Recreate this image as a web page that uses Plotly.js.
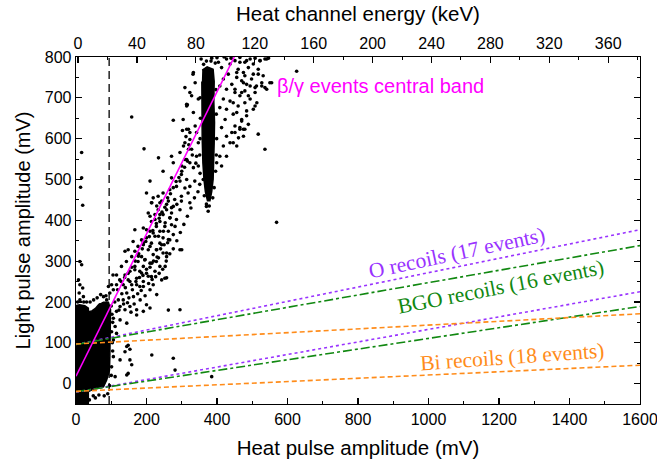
<!DOCTYPE html>
<html>
<head>
<meta charset="utf-8">
<script src="https://cdn.plot.ly/plotly-3.0.1.min.js"></script>
<style>html,body{margin:0;padding:0;background:#fff;}#chart{width:657px;height:463px;}</style>
</head>
<body>
<div id="chart"></div>
<script>
// ---------- data ----------
// scattered beta/gamma and low-energy events: [heat mV, light mV]
const eventPoints = [
 [247,520],[276,541],[271,504],[299,512],[323,541],[333,529],[347,533],[314,500],[295,496],[285,483],
 [266,475],[247,467],[210,496],[233,459],[219,455],[200,467],[309,479],[323,483],[337,496],[351,488],
 [361,500],[318,467],[299,459],[280,451],[262,447],[238,443],[214,443],[233,426],[257,426],[276,434],
 [299,447],[323,443],[295,426],[271,418],[247,414],[224,414],[205,418],[266,406],[285,402],[214,397],
 [238,397],[228,385],[252,385],[271,389],[191,381],[167,377],[210,373],[238,373],[262,373],[224,361],
 [200,357],[247,357],[186,352],[266,352],[162,348],[295,328],[214,344],[238,344],[191,340],[176,336],
 [148,328],[139,324],[167,324],[205,328],[228,328],[247,320],[257,311],[219,316],[186,311],[158,311],
 [195,303],[176,299],[143,299],[210,295],[228,299],[238,287],[191,287],[167,287],[129,287],[153,275],
 [181,275],[200,270],[214,262],[115,266],[139,266],[172,258],[148,254],[124,254],[191,250],[219,242],
 [158,242],[252,258],[105,266],[134,242],[115,242],[181,238],[370,434],[375,422],
 [333,762],[309,725],[323,713],[338,737],[347,697],[314,680],[333,664],[304,647],[319,623],[338,631],
 [309,590],[328,574],[342,557],[314,549],[300,533],[347,590],[342,615],[404,787],[413,774],[427,795],
 [437,783],[451,791],[465,799],[479,787],[494,795],[508,797],[522,791],[536,795],[546,797],[460,770],
 [475,762],[489,774],[503,758],[517,770],[531,754],[456,750],[470,742],[484,733],[498,746],[512,729],
 [432,758],[418,746],[408,729],[427,721],[442,733],[451,713],[465,705],[479,717],[494,697],[437,692],
 [418,697],[408,676],[427,672],[446,660],[460,680],[470,647],[484,668],[475,623],[465,627],[451,615],
 [423,647],[413,627],[427,606],[437,590],[418,582],[408,557],[427,557],[399,541],[413,533],[517,611],
 [536,574],[550,737],[626,765],[508,713],[527,729],[541,721],
 [465,787],[484,791],[503,783],[522,791],[541,795],[456,762],[479,754],[517,758],[475,737],[451,721],
 [494,729],[527,737],[555,737],[470,713],[489,705],[446,688],[479,688],[513,688],[503,672],[456,664],
 [484,656],[470,643],[451,631],[489,635],[465,623],[479,623],[442,615],[461,602],[475,606],[446,590],
 [456,582],[355,795],[370,790],[385,797],[395,785],[400,798],[420,800],[440,797],[332,758],[328,705],
 [314,684],[508,725],[508,680],[536,725],
 [16,566],[16,504],[13,481],[19,437],[158,653],[193,575],[276,645],[316,683],[234,553],[271,557],
 [309,549],[319,574],[305,582],[295,566],[323,598],[314,623],[323,615],[569,395],
 [11,299],[16,291],[7,254],[11,242],[19,234],[9,222],[21,213],[11,205],
 [68,193],[78,213],[87,205],[96,222],[106,230],[101,242],[92,238],
 [215,443],[229,435],[243,447],[257,439],[271,431],[286,439],[210,410],[224,402],[238,414],[253,394],
 [267,406],[281,385],[200,377],[219,369],[234,361],[248,373],[262,353],[276,365],[191,345],[210,336],
 [229,328],[243,340],[257,320],[177,312],[196,304],[215,295],[234,308],[253,287],[167,279],[186,271],
 [205,263],[224,275],[243,254],[153,250],[172,242],[191,238],[210,230],[229,218],[144,222],[163,213],
 [182,205],[200,193],[153,189],[172,181],[134,205],[125,189],[139,181],[115,177],[106,160],[125,156],
 [144,148],[172,168],[191,177],[210,185],[257,259],[295,181],[144,91],[139,78],[153,58],[158,46],
 [148,25],[215,70],
 [148,94],[153,84],[144,21],[276,62],[281,33],[385,17],[300,328],[262,180],
 [101,127],[106,107],[115,123],[111,140],[106,66],[101,41],[111,17],[125,58],[49,-30],
 [120,205],[130,220],[140,235],[150,210],[160,230],[170,250],[180,260],[190,265],[200,280],[210,285],
 [220,300],[230,310],[240,330],[250,340],[260,345],[118,230],[128,250],[138,260],[148,270],[158,285],
 [168,300],[178,318],[188,330],[198,348],[208,360],[218,375],[228,392],[236,405],[244,420],[252,432],
 [260,455],[268,465],[276,480],[284,495],[292,505],[300,520],[308,530],[316,545],[110,200],[122,180],
 [135,195],[146,198],[156,175],[165,195],[175,220],[185,228],[196,215],[206,245],[216,255],[226,262],
 [236,270],[246,280],[256,300],[266,318],[276,330],[286,350],[296,370],[306,390],[316,410],[326,430],
 [336,455],[346,470],[352,515],[340,540],[330,560],[320,585],[312,605],[302,620],
 [40,200],[50,205],[60,210],[70,218],[85,215],[100,190],[102,170],[104,150],[103,100],[104,80],
 [100,20],[95,-5],[90,-25],[80,-30],[65,-28],[55,-35],[38,-40],[30,200],[22,200],[5,200],
 [352,700],[353,650],[352,600],[351,560],[397,720],[398,660],[399,600],[398,560],[396,520],[392,480],
 [364,460],[388,455],[378,435],[370,440],[383,790],[362,782]
];
const eventX = eventPoints.map(p => p[0]);
const eventY = eventPoints.map(p => p[1]);

// outlines of the regions that are solid black with overlapping events
const noiseBlobX = [0, 0, 10, 25, 35, 35];
const noiseBlobY = [-50, 191, 193, 191, 185, -50];
const lowBlobX = [34, 45, 55, 63, 78, 92, 98, 98, 98, 96, 95, 87, 78, 59, 44, 34];
const lowBlobY = [176, 178, 184, 192, 199, 199, 181, 140, 99, 66, 33, 9, -8, -12, -16, -20];
const peakBlobX = [358, 372, 389, 392, 391, 393, 392, 391, 389, 385, 380, 373, 367, 363, 360, 358, 357, 356, 357];
const peakBlobY = [768, 776, 770, 740, 690, 640, 590, 540, 500, 470, 448, 448, 470, 500, 540, 600, 650, 700, 740];

// beta/gamma central band fit
const bandX = [0, 449];
const bandY = [18, 800];
// energy threshold
const thrX = [94, 94];
const thrY = [-50, 800];

// recoil bands (upper and lower lines), heat mV -> light mV
const recoilX = [0, 1600];
const oUpperY = [96, 377];
const oLowerY = [-21, 225];
const bgoUpperY = [96, 338];
const bgoLowerY = [-20, 189];
const biUpperY = [97, 171];
const biLowerY = [-19, 45];

// axes
const xTickVals = [0, 200, 400, 600, 800, 1000, 1200, 1400, 1600];
const yTickVals = [0, 100, 200, 300, 400, 500, 600, 700, 800];
const keVTickVals = [0, 40, 80, 120, 160, 200, 240, 280, 320, 360];

// ---------- drawing ----------
const SANS = 'Liberation Sans, Arial, sans-serif';
const SERIF = 'Liberation Serif, Times New Roman, serif';
const PURPLE = '#9933ff', GREEN = '#118811', ORANGE = '#ff8c1a', MAGENTA = '#ff00ff';

function blob(x, y) {
  return {x: x, y: y, type: 'scatter', mode: 'lines', fill: 'toself',
          fillcolor: '#000', line: {color: '#000', width: 1.5}, hoverinfo: 'skip', showlegend: false};
}
function ln(x, y, color, dash, width) {
  return {x: x, y: y, type: 'scatter', mode: 'lines',
          line: {color: color, dash: dash, width: width || 1.5}, hoverinfo: 'skip', showlegend: false};
}

const traces = [
  blob(noiseBlobX, noiseBlobY),
  blob(lowBlobX, lowBlobY),
  blob(peakBlobX, peakBlobY),
  {x: eventX, y: eventY, type: 'scatter', mode: 'markers',
   marker: {color: '#000', size: 3.6}, hoverinfo: 'skip', showlegend: false},
  ln(thrX, thrY, '#000', '8px,5px', 1.3),
  ln(recoilX, oUpperY, PURPLE, 'dot', 1.6),
  ln(recoilX, oLowerY, PURPLE, 'dot', 1.6),
  ln(recoilX, bgoUpperY, GREEN, 'dashdot', 1.6),
  ln(recoilX, bgoLowerY, GREEN, 'dashdot', 1.6),
  ln(recoilX, biUpperY, ORANGE, '5px,3px', 1.6),
  ln(recoilX, biLowerY, ORANGE, '5px,3px', 1.6),
  ln(bandX, bandY, MAGENTA, 'solid', 1.6),
  {x: [], y: [], xaxis: 'x2', type: 'scatter', mode: 'markers', showlegend: false, hoverinfo: 'skip'}
];

const axisCommon = {
  showline: true, linecolor: '#000', linewidth: 1.3,
  ticks: 'inside', ticklen: 6, tickwidth: 1.2, tickcolor: '#000',
  showgrid: false, zeroline: false,
  tickfont: {family: SANS, size: 16, color: '#000'},
  ticklabeloverflow: 'allow',
  fixedrange: true
};

const layout = {
  width: 657, height: 463,
  margin: {l: 76, r: 17, t: 57, b: 59, pad: 0},
  paper_bgcolor: '#fff', plot_bgcolor: '#fff',
  showlegend: false,
  xaxis: Object.assign({}, axisCommon, {
    range: [0, 1600], tickvals: xTickVals, ticktext: xTickVals.map(String),
    minor: {dtick: 100, tick0: 0, ticks: 'inside', ticklen: 3, tickcolor: '#000', tickwidth: 1},
    title: {text: 'Heat pulse amplitude (mV)', font: {family: SANS, size: 20.5, color: '#000'}, standoff: 14},
    automargin: false
  }),
  xaxis2: Object.assign({}, axisCommon, {
    overlaying: 'x', side: 'top', anchor: 'y',
    range: [-1.4, 381.6], tickvals: keVTickVals, ticktext: keVTickVals.map(String),
    minor: {dtick: 20, tick0: 0, ticks: 'inside', ticklen: 3, tickcolor: '#000', tickwidth: 1},
    title: {text: 'Heat channel energy (keV)', font: {family: SANS, size: 20.5, color: '#000'}, standoff: 8},
    automargin: false
  }),
  yaxis: Object.assign({}, axisCommon, {
    range: [-50, 800], tickvals: yTickVals, ticktext: yTickVals.map(String),
    mirror: 'ticks',
    minor: {dtick: 50, tick0: 0, ticks: 'inside', ticklen: 3, tickcolor: '#000', tickwidth: 1},
    title: {text: 'Light pulse amplitude (mV)', font: {family: SANS, size: 20, color: '#000'}, standoff: 8},
    automargin: false
  }),
  annotations: [
    {x: 565, y: 729, xref: 'x', yref: 'y', xanchor: 'left', yanchor: 'middle', showarrow: false,
     text: 'β/γ events central band', font: {family: SANS, size: 20, color: MAGENTA}},
    {x: 1081, y: 321, xref: 'x', yref: 'y', showarrow: false, textangle: -12,
     text: 'O recoils (17 events)', font: {family: SERIF, size: 21.5, color: PURPLE}},
    {x: 1205, y: 236, xref: 'x', yref: 'y', showarrow: false, textangle: -11,
     text: 'BGO recoils (16 events)', font: {family: SERIF, size: 21.5, color: GREEN}},
    {x: 1237, y: 64, xref: 'x', yref: 'y', showarrow: false, textangle: -4,
     text: 'Bi recoils (18 events)', font: {family: SERIF, size: 21.5, color: ORANGE}}
  ]
};

Plotly.newPlot('chart', traces, layout, {staticPlot: true, displayModeBar: false});
</script>
</body>
</html>
